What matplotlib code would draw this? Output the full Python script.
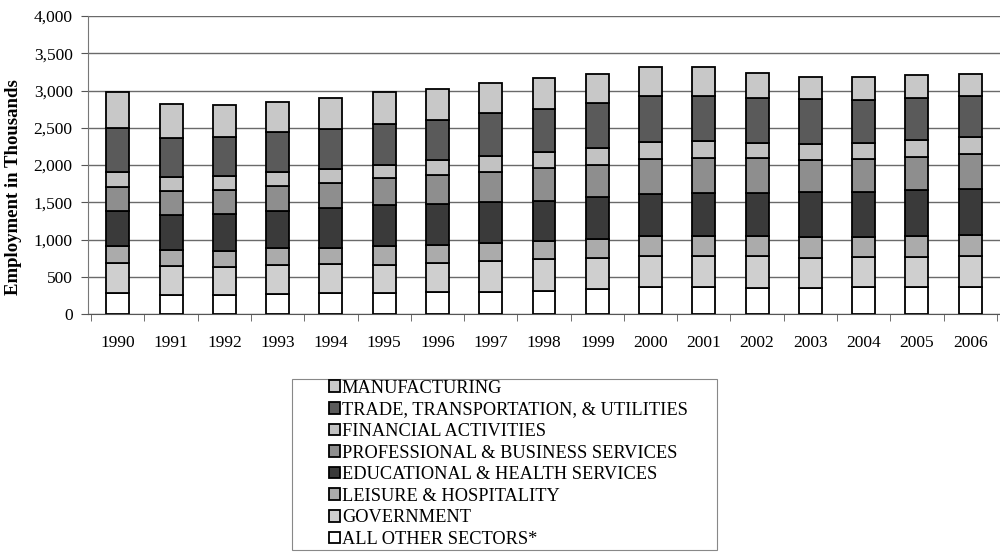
import matplotlib
matplotlib.use("Agg")
import matplotlib.pyplot as plt
from matplotlib.patches import Rectangle
import numpy as np

plt.rcParams['font.family'] = ['Liberation Serif', 'DejaVu Serif']

years = [str(y) for y in range(1990, 2007)]

# employment by sector, thousands (stack order bottom -> top)
all_other = [287, 255, 260, 269, 282, 278, 300, 300, 313, 336, 358, 367, 345, 354, 358, 363, 358]
government = [393, 390, 376, 389, 390, 385, 385, 412, 421, 416, 417, 416, 438, 403, 403, 407, 425]
leisure = [238, 219, 215, 224, 214, 246, 246, 242, 251, 255, 273, 269, 269, 277, 278, 278, 278]
educ_health = [465, 466, 492, 506, 538, 555, 546, 546, 528, 560, 559, 578, 578, 605, 595, 613, 618]
prof_business = [327, 326, 322, 331, 335, 358, 390, 407, 448, 439, 479, 461, 461, 425, 452, 448, 470]
financial = [197, 184, 184, 193, 188, 179, 197, 215, 210, 224, 224, 228, 210, 224, 211, 224, 224]
trade = [596, 528, 533, 532, 542, 546, 546, 573, 582, 608, 613, 609, 596, 595, 577, 564, 559]
manufacturing = [474, 448, 425, 408, 417, 439, 412, 412, 412, 390, 390, 394, 340, 296, 309, 309, 296]

series = [
    ("ALL OTHER SECTORS*", all_other, "#ffffff"),
    ("GOVERNMENT", government, "#cfcfcf"),
    ("LEISURE & HOSPITALITY", leisure, "#ababab"),
    ("EDUCATIONAL & HEALTH SERVICES", educ_health, "#3a3a3a"),
    ("PROFESSIONAL & BUSINESS SERVICES", prof_business, "#8e8e8e"),
    ("FINANCIAL ACTIVITIES", financial, "#c2c2c2"),
    ("TRADE, TRANSPORTATION, & UTILITIES", trade, "#5a5a5a"),
    ("MANUFACTURING", manufacturing, "#c8c8c8"),
]

fig = plt.figure(figsize=(10, 5.52), dpi=100)
ax = fig.add_axes([0.088, 0.431, 0.912, 0.54])

x = np.arange(len(years))
bottom = np.zeros(len(years))
handles = []
for name, vals, col in series:
    b = ax.bar(x, vals, 0.43, bottom=bottom, color=col, edgecolor="black",
               linewidth=1.3, label=name, zorder=3)
    handles.append(b)
    bottom += np.array(vals)

ax.set_ylim(0, 4000)
ax.set_xlim(-0.56, 16.56)
ax.set_yticks(np.arange(0, 4001, 500))
ax.set_yticklabels([f"{v:,}" for v in range(0, 4001, 500)], fontsize=12.5)
ax.yaxis.grid(True, color="#6a6a6a", linewidth=1.0, zorder=0)

ax.set_xticks(x)
ax.set_xticklabels(years, fontsize=12.5)
ax.tick_params(axis="x", length=0, pad=15)
ax.set_xticks(np.arange(-0.5, 16.6, 1), minor=True)
ax.tick_params(axis="x", which="minor", length=5, color="#555")
ax.tick_params(axis="y", length=5, color="#555", pad=6)

for s in ["top", "right"]:
    ax.spines[s].set_visible(False)
ax.spines["left"].set_color("#777")
ax.spines["bottom"].set_color("#555")

ax.set_ylabel("Employment in Thousands", fontsize=13.5, fontweight="bold")
ax.yaxis.set_label_coords(-0.072, 0.426)

# legend frame drawn separately so the padding matches
fig.patches.append(Rectangle((0.292, 0.004), 0.425, 0.309, transform=fig.transFigure,
                             fill=False, edgecolor="#888", linewidth=0.8))
leg = fig.legend(handles[::-1], [s[0] for s in series[::-1]], loc="upper left",
                 bbox_to_anchor=(0.329, 0.312), fontsize=13.2, frameon=False,
                 handlelength=0.6, handleheight=0.6, handletextpad=0.1,
                 labelspacing=0.25, borderpad=0.0, borderaxespad=0.0)

fig.savefig("out.png", dpi=100)
